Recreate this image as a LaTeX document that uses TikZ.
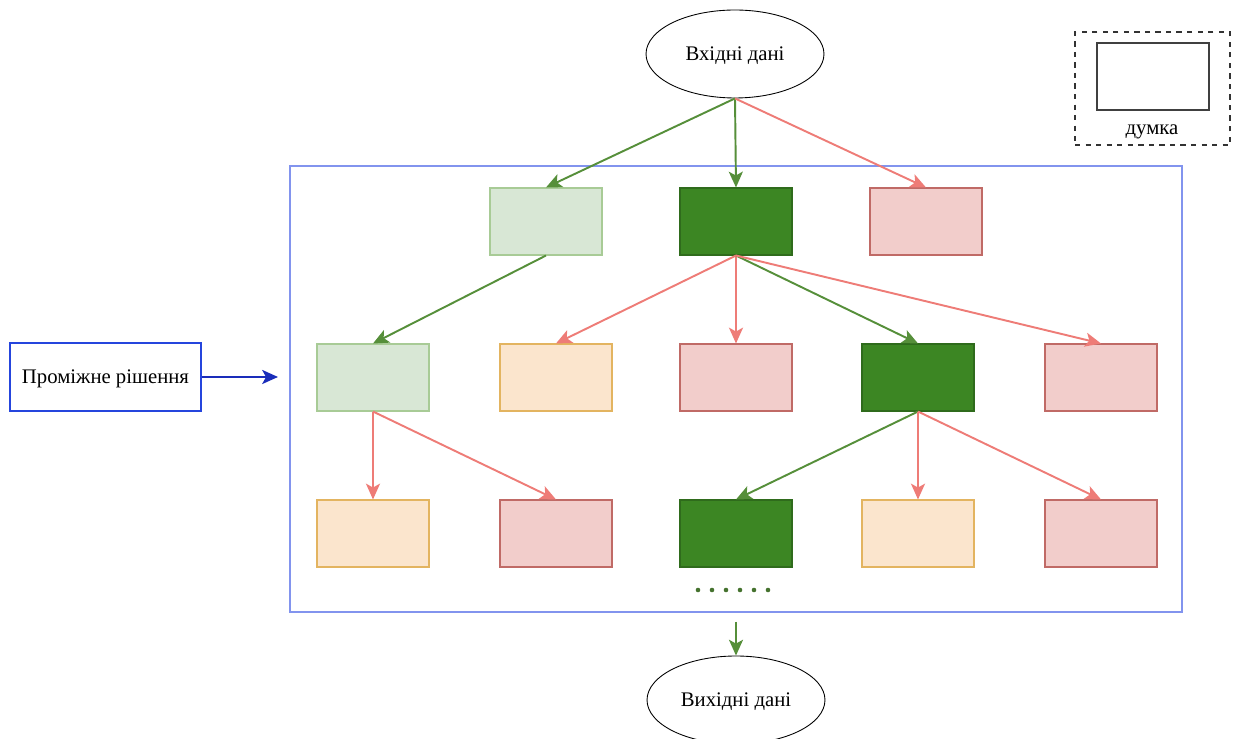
\documentclass[tikz,border=0pt]{standalone}
\usepackage{fontspec}
\setmainfont{Liberation Serif}
\usetikzlibrary{shapes.geometric,arrows.meta}
\definecolor{lgfill}{HTML}{D8E7D5}
\definecolor{lgdraw}{HTML}{A8CB96}
\definecolor{dgfill}{HTML}{3C8623}
\definecolor{dgdraw}{HTML}{2F6B1C}
\definecolor{pkfill}{HTML}{F2CDCB}
\definecolor{pkdraw}{HTML}{C06A66}
\definecolor{orfill}{HTML}{FBE5CD}
\definecolor{ordraw}{HTML}{E3B460}
\definecolor{garrow}{HTML}{568F3A}
\definecolor{parrow}{HTML}{EE7C77}
\definecolor{cont}{HTML}{8294EE}
\definecolor{lbox}{HTML}{2545DD}
\definecolor{larrow}{HTML}{1A2DBA}
\tikzset{
  thought/.style={rectangle, minimum width=2.24cm, minimum height=1.34cm, inner sep=0pt, line width=0.6pt},
  lg/.style={thought, fill=lgfill, draw=lgdraw},
  dg/.style={thought, fill=dgfill, draw=dgdraw},
  pk/.style={thought, fill=pkfill, draw=pkdraw},
  og/.style={thought, fill=orfill, draw=ordraw},
  txt/.style={font=\fontsize{11.8}{14}\selectfont, text height=2.1ex, text depth=0.4ex},
  ell/.style={ellipse, draw=black, line width=0.5pt, minimum width=3.56cm, minimum height=1.76cm, inner sep=0pt, txt},
  tip/.style={-{Stealth[length=9pt,width=8pt,inset=2.2pt]}, line width=1.1pt},
  ga/.style={tip, draw=garrow, fill=garrow},
  pa/.style={tip, draw=parrow, fill=parrow},
}
\begin{document}
\begin{tikzpicture}[x=0.02cm, y=-0.02cm]
\useasboundingbox (0,0) rectangle (1235,739);
% container
\node[draw=cont, line width=0.8pt, minimum width=17.84cm, minimum height=8.92cm, inner sep=0pt] (cont) at (736,389) {};
% ellipses
\node[ell] (in) at (735,54) {Вхідні дані};
\node[ell] (out) at (736,700) {Вихідні дані};
% legend
\node[draw=black!80, dashed, line width=0.6pt, minimum width=3.1cm, minimum height=2.26cm, inner sep=0pt] (leg) at (1152.5,88.5) {};
\node[draw=black!75, line width=0.8pt, minimum width=2.24cm, minimum height=1.34cm, inner sep=0pt] (legbox) at (1153,76.5) {};
\node[txt] (legtxt) at (1152,128) {думка};
% left label
\node[draw=lbox, line width=1pt, minimum width=3.82cm, minimum height=1.36cm, inner sep=0pt, txt] (mid) at (105.5,377) {Проміжне рішення};
\coordinate (midend) at (278,377);
\draw[-{Stealth[length=9pt,width=8pt,inset=2.2pt]}, line width=1.3pt, draw=larrow, fill=larrow] (mid.east) -- (midend);
% row 1
\node[lg] (a1) at (546,221.5) {};
\node[dg] (a2) at (736,221.5) {};
\node[pk] (a3) at (926,221.5) {};
% row 2
\node[lg] (b1) at (373,377.5) {};
\node[og] (b2) at (556,377.5) {};
\node[pk] (b3) at (736,377.5) {};
\node[dg] (b4) at (918,377.5) {};
\node[pk] (b5) at (1101,377.5) {};
% row 3
\node[og] (c1) at (373,533.5) {};
\node[pk] (c2) at (556,533.5) {};
\node[dg] (c3) at (736,533.5) {};
\node[og] (c4) at (918,533.5) {};
\node[pk] (c5) at (1101,533.5) {};
% arrows
\draw[ga] (in.south) -- (a1.north);
\draw[ga] (in.south) -- (a2.north);
\draw[pa] (in.south) -- (a3.north);
\draw[ga] (a1.south) -- (b1.north);
\draw[pa] (a2.south) -- (b2.north);
\draw[pa] (a2.south) -- (b3.north);
\draw[ga] (a2.south) -- (b4.north);
\draw[pa] (a2.south) -- (b5.north);
\draw[pa] (b1.south) -- (c1.north);
\draw[pa] (b1.south) -- (c2.north);
\draw[ga] (b4.south) -- (c3.north);
\draw[pa] (b4.south) -- (c4.north);
\draw[pa] (b4.south) -- (c5.north);
% dots
\foreach \i in {0,...,5} \fill[garrow!80!black] (698+14*\i,590) circle (1.3pt);
% to output
\coordinate (outstart) at (736,622);
\draw[ga] (outstart) -- (out.north);
\end{tikzpicture}
\end{document}
